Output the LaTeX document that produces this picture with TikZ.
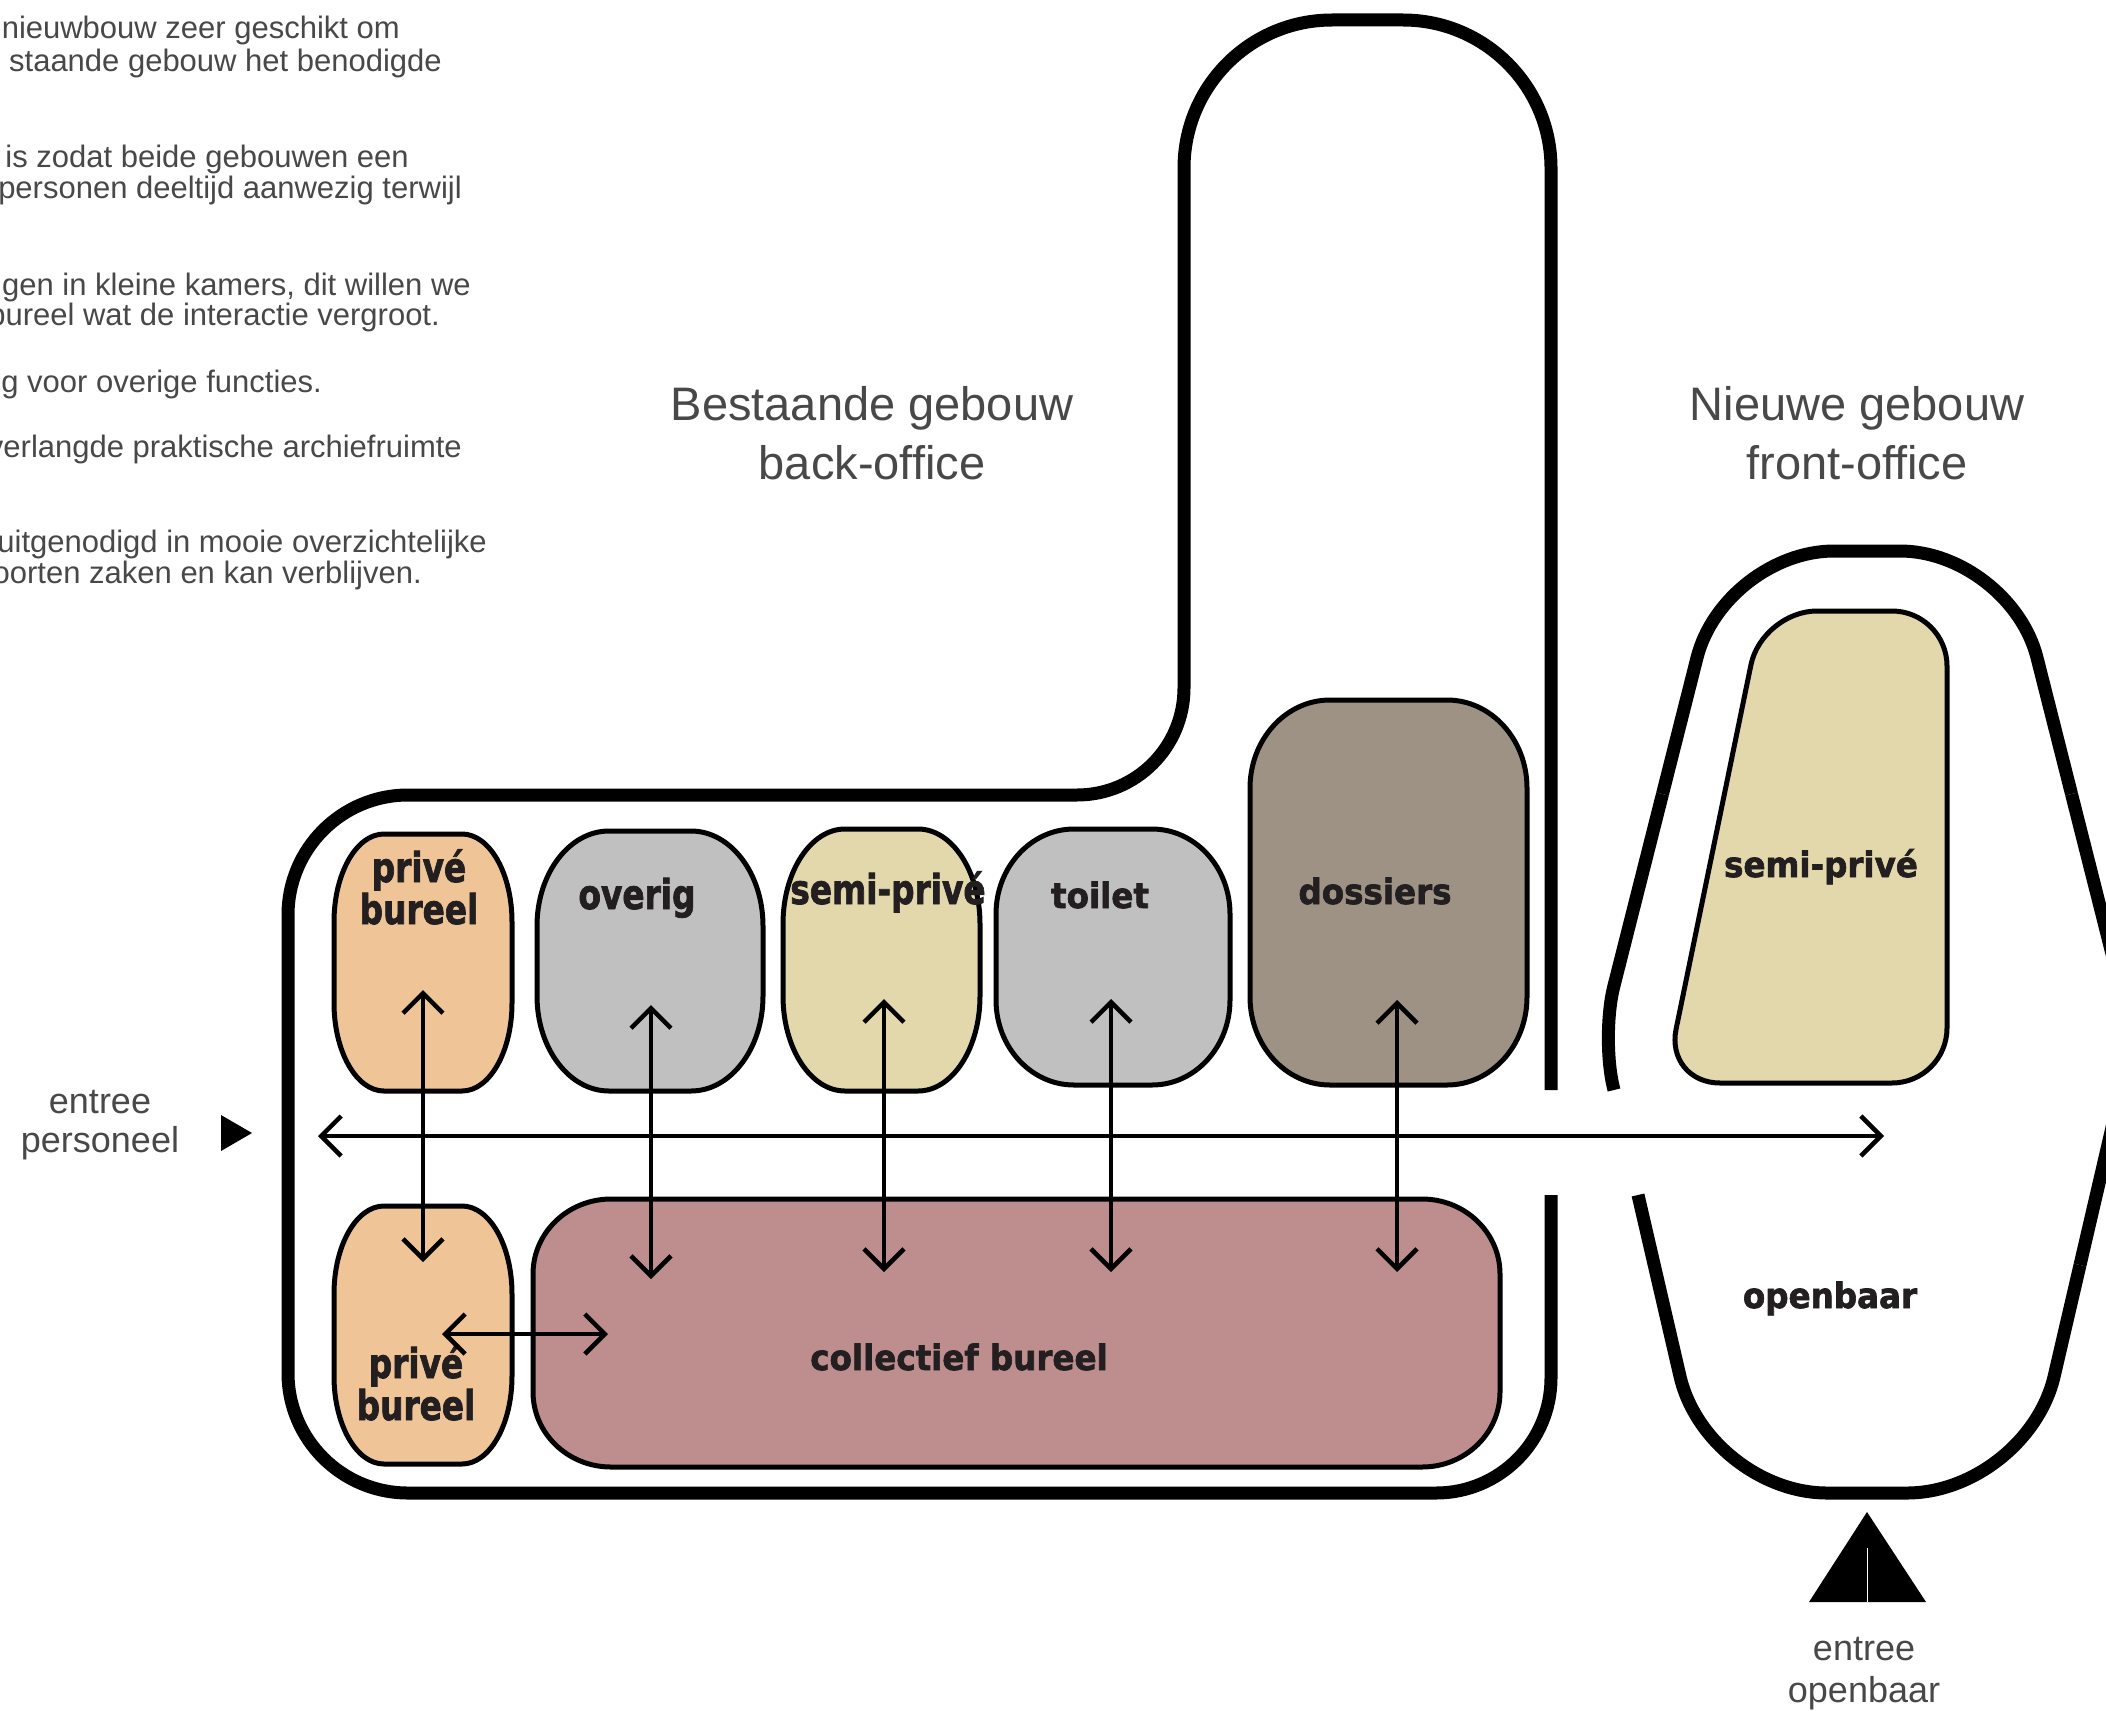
\documentclass[tikz,border=0pt]{standalone}
\usepackage{fontspec}
\usepackage{graphicx}
\setmainfont{Liberation Sans}
\newfontfamily\heavyfont{DejaVu Sans}[BoldFeatures={FakeBold=2}]
\usetikzlibrary{arrows.meta,calc}
\definecolor{txt}{RGB}{72,72,72}
\definecolor{lbl}{RGB}{35,31,32}
\definecolor{cPrive}{RGB}{239,197,151}
\definecolor{cGrey}{RGB}{192,192,192}
\definecolor{cSemi}{RGB}{226,216,172}
\definecolor{cDos}{RGB}{158,146,133}
\definecolor{cColl}{RGB}{190,142,143}
% rounded rectangle with elliptical corners: style, x1, y1, x2, y2, rx, ry
\newcommand\erbox[7]{\draw[#1] ({#2+#6},#3) -- ({#4-#6},#3)
  arc[start angle=270,end angle=360,x radius=#6,y radius=#7] -- (#4,{#5-#7})
  arc[start angle=0,end angle=90,x radius=#6,y radius=#7] -- ({#2+#6},#5)
  arc[start angle=90,end angle=180,x radius=#6,y radius=#7] -- (#2,{#3+#7})
  arc[start angle=180,end angle=270,x radius=#6,y radius=#7] -- cycle;}
\newcommand\cA[1]{\scalebox{0.8}[1]{#1}}
\newcommand\cB[1]{\scalebox{0.93}[1]{#1}}
\begin{document}
\begin{tikzpicture}[x=1pt,y=-1pt,
  wall/.style={line width=13pt},
  room/.style={line width=5pt, draw=black},
  arr/.style={line width=4.5pt, {Straight Barb[length=20pt,width=40pt]}-{Straight Barb[length=20pt,width=40pt]}},
  body/.style={font=\fontsize{31}{33}\selectfont, text=txt, inner sep=0pt, anchor=base east},
  head/.style={font=\fontsize{47}{56}\selectfont, text=txt, inner sep=0pt, anchor=base},
  ent/.style={font=\fontsize{36}{40}\selectfont, text=txt, inner sep=0pt, anchor=base},
  lblA/.style={font=\heavyfont\bfseries\fontsize{41}{44}\selectfont, text=lbl, inner sep=0pt, anchor=base},
  lblB/.style={font=\heavyfont\bfseries\fontsize{35}{40}\selectfont, text=lbl, inner sep=0pt, anchor=base}]
\useasboundingbox (0,0) rectangle (2106,1710);
\clip (0,0) rectangle (2106,1710);
\fill[white] (0,0) rectangle (2106,1710);

% ---- text block top left
\node[body] (t1) at (400,38) {nieuwbouw zeer geschikt om};
\node[body] (t2) at (442,71) {staande gebouw het benodigde};
\node[body] (t3) at (409,167) {is zodat beide gebouwen een};
\node[body] (t4) at (462,198) {personen deeltijd aanwezig terwijl};
\node[body] (t5) at (471,295) {ngen in kleine kamers, dit willen we};
\node[body] (t6) at (440,325) {bureel wat de interactie vergroot.};
\node[body] (t7) at (322,392) {g voor overige functies.};
\node[body] (t8) at (462,457) {verlangde praktische archiefruimte};
\node[body] (t9) at (487,552) {uitgenodigd in mooie overzichtelijke};
\node[body] (t10) at (422,583) {oorten zaken en kan verblijven.};

% ---- headings
\node[head] (h1) at (872,420) {Bestaande gebouw};
\node[head] (h2) at (872,479) {back-office};
\node[head] (h3) at (1857,420) {Nieuwe gebouw};
\node[head] (h4) at (1857,479) {front-office};

% ---- existing building outline
\draw[wall] (1551,1195) -- (1551,1378) arc[start angle=0,end angle=90,radius=115]
  -- (408,1493) arc[start angle=90,end angle=180,radius=120]
  -- (288,915) arc[start angle=180,end angle=270,radius=120]
  -- (1077,795) arc[start angle=90,end angle=0,radius=107]
  -- (1184,168) arc[start angle=180,end angle=270,radius=148]
  -- (1403,20) arc[start angle=270,end angle=360,radius=148]
  -- (1551,1090);

% ---- new building outline
\coordinate (nGT) at (1614,1090);
\coordinate (nL) at (1601,1037);
\coordinate (nTL) at (1724,551);
\coordinate (nTR) at (2010,551);
\coordinate (nR) at (2133,1037);
\coordinate (nBR) at (2027,1493);
\coordinate (nBL) at (1707,1493);
\coordinate (nGB) at (1638,1195);
\draw[wall, rounded corners=52pt] (nGT) -- (nL) -- ($(nL)!0.5!(nTL)$);
\draw[wall, rounded corners=110pt] ($(nL)!0.5!(nTL)$) -- (nTL) -- (nTR) -- ($(nTR)!0.5!(nR)$);
\draw[wall, rounded corners=52pt] ($(nTR)!0.5!(nR)$) -- (nR) -- ($(nR)!0.5!(nBR)$);
\draw[wall, rounded corners=120pt] ($(nR)!0.5!(nBR)$) -- (nBR) -- (nBL) -- (nGB);

% ---- rooms
\erbox{room,fill=cPrive}{334}{834}{512}{1091}{50}{88}
\erbox{room,fill=cGrey}{537}{831}{763}{1091}{72}{95}
\erbox{room,fill=cSemi}{783}{829}{980}{1091}{62}{95}
\erbox{room,fill=cGrey}{996}{829}{1230}{1085}{78}{85}
\erbox{room,fill=cDos}{1250}{700}{1527}{1085}{80}{88}
\erbox{room,fill=cPrive}{334}{1206}{512}{1464}{50}{88}
\erbox{room,fill=cColl}{533}{1199}{1500}{1467}{78}{75}
\draw[room, fill=cSemi, rounded corners=55pt] (1762,611) -- (1947,611) -- (1947,1083) -- (1665,1083) -- cycle;

% ---- room labels
\node[lblA] (lA1) at (419,882) {\cA{privé}};
\node[lblA] (lA2) at (419,924) {\cA{bureel}};
\node[lblA] (lB) at (637,909) {\cA{overig}};
\node[lblA] (lC) at (888,904) {\cA{semi-privé}};
\node[lblB] (lD) at (1100,908) {\cB{toilet}};
\node[lblB] (lE) at (1375,904) {\cB{dossiers}};
\node[lblB] (lN) at (1821,877) {\cB{semi-privé}};
\node[lblA] (lF1) at (416,1378) {\cA{privé}};
\node[lblA] (lF2) at (416,1420) {\cA{bureel}};
\node[lblB] (lG) at (959,1370) {\cB{collectief bureel}};
\node[lblB] (lO) at (1830,1308) {\cB{openbaar}};

% ---- arrows
\coordinate (a1t) at (423,990);  \coordinate (a1b) at (423,1262);
\coordinate (a2t) at (651,1005); \coordinate (a2b) at (651,1279);
\coordinate (a3t) at (884,999);  \coordinate (a3b) at (884,1272);
\coordinate (a4t) at (1111,999); \coordinate (a4b) at (1111,1272);
\coordinate (a5t) at (1397,1000); \coordinate (a5b) at (1397,1272);
\coordinate (hl) at (318,1136);  \coordinate (hr) at (1884,1136);
\coordinate (sl) at (442,1334);  \coordinate (sr) at (608,1334);
\draw[arr] (a1t) -- (a1b);
\draw[arr] (a2t) -- (a2b);
\draw[arr] (a3t) -- (a3b);
\draw[arr] (a4t) -- (a4b);
\draw[arr] (a5t) -- (a5b);
\draw[arr] (hl) -- (hr);
\draw[arr] (sl) -- (sr);

% ---- entrances
\node[ent] (e1) at (100,1113) {entree};
\node[ent] (e2) at (100,1152) {personeel};
\fill (221,1115) -- (252,1133) -- (221,1151) -- cycle;
\fill (1867,1512) -- (1926,1602) -- (1809,1602) -- cycle;
\draw[white, line width=0.8pt] (1867,1548) -- (1867,1602);
\node[ent] (e3) at (1864,1660) {entree};
\node[ent] (e4) at (1864,1702) {openbaar};
\end{tikzpicture}
\end{document}
